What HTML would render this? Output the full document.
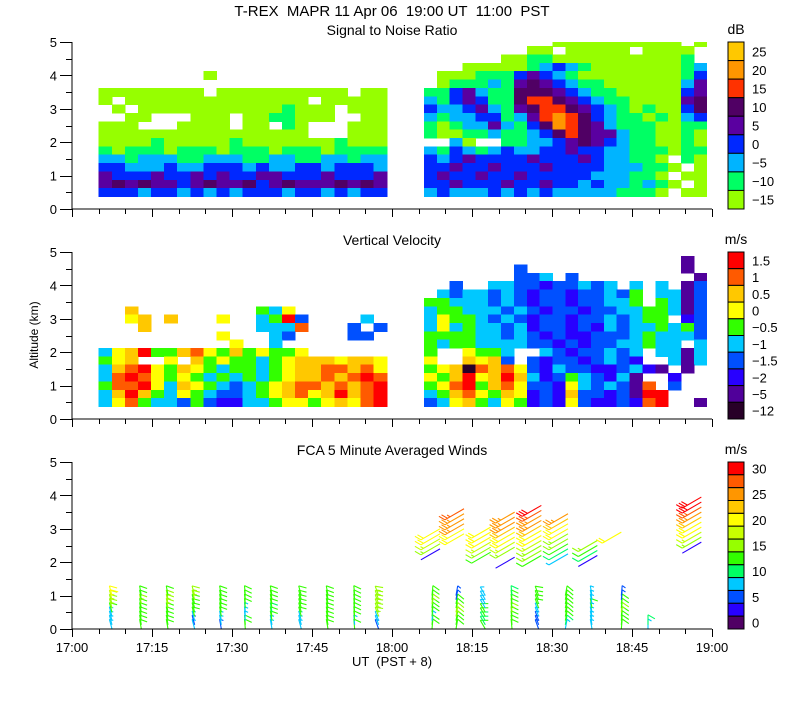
<!DOCTYPE html>
<html><head><meta charset="utf-8"><style>
body{margin:0;background:#fff;}
svg text{font-family:"Liberation Sans",sans-serif;fill:#000;}
</style></head><body>
<svg id="chart" width="800" height="700" viewBox="0 0 800 700" xmlns="http://www.w3.org/2000/svg">
<rect width="800" height="700" fill="#fff"/>
<text x="392" y="16" font-size="15" text-anchor="middle" xml:space="preserve">T-REX  MAPR 11 Apr 06  19:00 UT  11:00  PST</text>
<text x="392" y="35" font-size="14" text-anchor="middle">Signal to Noise Ratio</text>
<text x="392" y="245" font-size="14" text-anchor="middle">Vertical Velocity</text>
<text x="392" y="455" font-size="14" text-anchor="middle">FCA 5 Minute Averaged Winds</text>
<text x="0" y="0" font-size="12" text-anchor="middle" transform="translate(38,335) rotate(-90)">Altitude (km)</text>
<text x="392" y="666" font-size="13" text-anchor="middle" xml:space="preserve">UT  (PST + 8)</text>
<g id="layer"></g>
</svg>
<script>
// ---- data ----
const xTickLabels = ["17:00","17:15","17:30","17:45","18:00","18:15","18:30","18:45","19:00"];
const yTickLabels = ["0","1","2","3","4","5"];
const snrLabels = ["25","20","15","10","5","0","\u22125","\u221210","\u221215"];
const vvLabels = ["1.5","1","0.5","0","\u22120.5","\u22121","\u22121.5","\u22122","\u22125","\u221212"];
const windLabels = ["30","","25","","20","","15","","10","","5","","0"];
const blockStart = [5, 66];   // minutes after 17:00
const blockEnd = [59, 119];
// SNR level index per cell ('.' = no data), rows top (5.0 km) to bottom (0.5 km)
const snrLeft = [
"......................","......................","......................","......................",
"........0.............","......................","00000000.0000000000.00","0.00000000000000.00000",
".0.000000000001000.000","..00...000.0011000..00","000...0000.00.10...000","0000000000000000...000",
"0000100000100000001000","1011101110111011101111","2212221122211221122122","3322232233323223323332",
"4333433434334433343334","4545443454453454445454","3332332323233323323233"];
const snrRight = [
"..........0000000000.0","........00.00000.0000.","......001100000000001.","...0000012321000000012",
".000111343210000000013",".011121454321100000024","1134211555432110000034","2134311566543211000045",
"3223421456654321010035","2122331246765321101023","1012242135765421110011","1001121123565442110010",
"..20..1122345432110010","2132123223343322111011","3234333343334322110.10","33433433343333222110.0",
"3433433433333222110.00","33433343343323221210.0","2322232323222221110.00"];
// Vertical velocity level index (0=-12 ... 9=1.5)
const vvLeft = [
"......................","......................","......................","......................",
"......................","......................","......................","..7.........546.......",
"..67.7...6..4593....4.","...7........4448...3.3",".........6...43....33.","..........6..4........",
"4679557865756556......","567..6.756554567776776","4789657654554567788786","4898656545454567787898",
"5889647654345678878789","4797546543345678679789","4685443532244566567689"];
const vvRight = [
"......................","....................1.",".......3............1.",".......334.3.........1",
"..3..4433233434.4.4.13",".4344343233233435.4413","55444343233233445.5413","4554443432332334455413",
"4655434323323343455.23","4645443423323243445453","5555443432322333454443","54554444332323344544.4",
"5..6554..43233434.4414","6..7673.323323432..414","5670878632433223421.1.","65796797423543241..2..",
"568957863326434318.3..","4578657623273323199...","3467546523263223289..1"];
// Winds: low-level profiles
const windLowTimes = [7.5,13,18,23,28,32.5,37.5,43,48,53,57.5,67.5,72,77.5,82.5,87.5,92.5,97.5,103,108];
const windLowLevels = [0,0.125,0.25,0.375,0.5,0.625,0.75,0.875,1.0];
const windLowSpeeds = [
[9,8,9,8,14,15,16,19,21],[13,14,13,14,13,14,15,14,13],[14,13,14,13,14,15,15,16,14],
[8,7,8,13,14,14,14,15,16],[7,8,9,13,14,14,14,14,13],[13,13,9,8,8,14,14,14,14],
[8,9,13,13,12,14,14,13,14],[8,8,9,13,14,14,14,14,13],[14,13,14,13,14,13,14,14,13],
[13,9,13,13,13,14,14,14,13],[7,8,9,15,16,16,17,17,16],[13,13,9,13,14,14,15,14,13],
[14,13,13,15,16,14,13,5,5],[13,12,12,13,14,9,8,8,8],[13,13,14,14,15,14,13,13,12],
[5,5,6,8,9,13,14,13,13],[9,12,13,13,14,14,14,13,13],[8,8,8,9,9,13,8,8,8],
[14,13,14,14,15,14,13,5,6],[8,10,null,null,null,null,null,null,null]];
const windLowDirs = [345,350,350,345,350,355,350,345,350,355,340,5,10,330,355,340,10,350,5,0];
// Winds: upper profiles
const windHighTimes = [69,73.5,78.5,83,88,93,98.5,103,118];
const windHighBase = [2.4,2.85,2.3,2.15,2.2,2.25,2.2,2.9,2.6];
const windHighSpeeds = [
[4,17,19,20,21],[20,21,25,26,27,28],[14,17,18,20,21,22],[4,null,17,18,20,22,24,25,26,27],
[14,15,16,18,20,21,23,25,27,29,31],[8,12,14,15,17,20,22,24,26],[4,12,14,16],[22],
[4,16,18,20,21,24,27,29,30,31]];
const windHighDirs = [240,240,240,240,240,240,240,240,240];
// ---- styles ----
const snrColors = ["#96ff00","#00ff64","#00b4ff","#0028ff","#5a00a0","#500064","#ff3200","#ff9600","#ffc800"];
const vvColors = ["#280028","#50009a","#2800ff","#0050ff","#00c8ff","#32ff00","#ffff00","#ffc800","#ff5a00","#ff0000"];
const windColors = ["#500064","#2800ff","#0050ff","#00c8ff","#00ff64","#32ff00","#96ff00","#c8ff00","#ffff00","#ffc800","#ff9600","#ff5a00","#ff0000"];
const X0 = 72, X1 = 712, PTOP = [42,252,462], PH = 167;
const NS = "http://www.w3.org/2000/svg";
const layer = document.getElementById('layer');
function xScale(m){ return X0 + (X1-X0)*m/120; }
function yScale(p,alt){ return PTOP[p] + PH - PH*alt/5; }
function mk(tag, attrs, parent){ const e=document.createElementNS(NS,tag); for(const k in attrs) e.setAttribute(k,attrs[k]); (parent||layer).appendChild(e); return e; }

function drawField(p, rows, b, colors, name){
  const g = mk('g',{'shape-rendering':'crispEdges'});
  
  
  const nc = 22, dt = (blockEnd[b]-blockStart[b])/nc;
  rows.forEach((row,i)=>{
    const top = Math.min(5, 5.125-0.25*i), bot = 5.125-0.25*i-0.25;
    for(let c=0;c<nc;c++){
      const ch = row[c];
      if(ch===undefined || ch==='.') continue;
      const v = parseInt(ch,10); if(isNaN(v)) continue;
      const xa = xScale(blockStart[b]+c*dt), xb = xScale(blockStart[b]+(c+1)*dt);
      const ya = yScale(p,top), yb = yScale(p,bot);
      const r = mk('rect',{x:xa.toFixed(1),y:ya.toFixed(1),width:(xb-xa+0.6).toFixed(1),height:(yb-ya+0.6).toFixed(1),fill:colors[Math.min(v,colors.length-1)]},g);
      
      
    }
  });
}
drawField(0, snrLeft, 0, snrColors, 'snr-field-left');
drawField(0, snrRight, 1, snrColors, 'snr-field-right');
drawField(1, vvLeft, 0, vvColors, 'vv-field-left');
drawField(1, vvRight, 1, vvColors, 'vv-field-right');

function windColor(s){ return windColors[Math.max(0,Math.min(12,Math.floor(s/2.5)))]; }
function barb(x,y,spd,dir,L,rot,fl,sp){
  const rad = dir*Math.PI/180, ux=Math.sin(rad), uy=-Math.cos(rad);
  const col = windColor(spd);
  const g = mk('g',{stroke:col,'stroke-width':1.1,fill:'none'});
  
  
  const tx=x+ux*L, ty=y+uy*L;
  mk('line',{x1:x,y1:y,x2:tx.toFixed(1),y2:ty.toFixed(1)},g);
  const th=rot*Math.PI/180, fx=ux*Math.cos(th)-uy*Math.sin(th), fy=ux*Math.sin(th)+uy*Math.cos(th);
  let n=Math.floor(spd/10), half=(spd%10)>=5, k=0;
  for(let i=0;i<n;i++,k++){ const px=tx-ux*sp*k, py=ty-uy*sp*k; mk('line',{x1:px.toFixed(1),y1:py.toFixed(1),x2:(px+fx*fl).toFixed(1),y2:(py+fy*fl).toFixed(1)},g); }
  if(half){ const px=tx-ux*sp*k, py=ty-uy*sp*k; mk('line',{x1:px.toFixed(1),y1:py.toFixed(1),x2:(px+fx*fl/2).toFixed(1),y2:(py+fy*fl/2).toFixed(1)},g); }
}
windLowTimes.forEach((t,i)=>{
  windLowLevels.forEach((a,j)=>{ const s=windLowSpeeds[i][j]; if(s==null) return; barb(xScale(t), yScale(2,a), s, windLowDirs[i], 10, 120, 8, 4); });
});
windHighTimes.forEach((t,i)=>{
  windHighSpeeds[i].forEach((s,j)=>{ if(s==null) return; barb(xScale(t), yScale(2,windHighBase[i]+0.15*j), s, windHighDirs[i], 22, 60, 7, 3); });
});

// axes
for(let p=0;p<3;p++){
  const ax = mk('g',{stroke:'#000','stroke-width':1,'shape-rendering':'crispEdges'});
  
  
  const yb = PTOP[p]+PH;
  mk('line',{x1:X0,y1:PTOP[p],x2:X0,y2:yb},ax);
  mk('line',{x1:X0,y1:yb,x2:X1,y2:yb},ax);
  for(let m=0;m<=120;m+=5){ const x=Math.round(xScale(m))+0.5; mk('line',{x1:x,y1:yb,x2:x,y2:yb+(m%15===0?8:5)},ax); }
  for(let a=0;a<=10;a++){ const y=Math.round(yScale(p,a/2))+0.5; mk('line',{x1:X0-(a%2===0?12:6),y1:y,x2:X0,y2:y},ax); }
  yTickLabels.forEach((l,i)=>{ const t=mk('text',{x:57,y:(yScale(p,i)+5).toFixed(1),'font-size':13,'text-anchor':'end'}); t.textContent=l;
      });
}
xTickLabels.forEach((l,i)=>{ const t=mk('text',{x:xScale(i*15),y:652,'font-size':13,'text-anchor':'middle'}); t.textContent=l;
    });

function colorbar(p, colors, labels, unit, name){
  const g = mk('g',{});
  
  
  const n=colors.length, h=PH/n;
  for(let i=0;i<n;i++){
    const y=PTOP[p]+i*h;
    mk('rect',{x:728,y:y.toFixed(1),width:16,height:h.toFixed(1),fill:colors[n-1-i],stroke:'#000','stroke-width':1},g);
    if(labels[i]){ const t=mk('text',{x:752,y:(y+h/2+5).toFixed(1),'font-size':13},g); t.textContent=labels[i];
        }
  }
  const u=mk('text',{x:736,y:PTOP[p]-8,'font-size':14,'text-anchor':'middle'},g); u.textContent=unit;
   
}
colorbar(0, snrColors, snrLabels, 'dB', 'snr-colorbar');
colorbar(1, vvColors, vvLabels, 'm/s', 'vv-colorbar');
colorbar(2, windColors, windLabels, 'm/s', 'wind-colorbar');
</script>
</body></html>
